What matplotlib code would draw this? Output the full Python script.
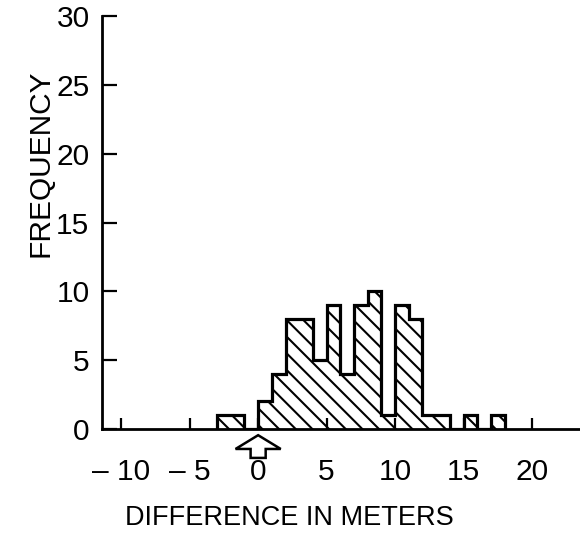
import numpy as np
import matplotlib
matplotlib.use("Agg")
import matplotlib.pyplot as plt
import matplotlib.patches as mpatches

# histogram of differences (1 m bins)
bin_edges = list(range(-3, 19))
counts = [1, 1, 0, 2, 4, 8, 8, 5, 9, 4, 9, 10, 1, 9, 8, 1, 1, 0, 1, 0, 1]

xticks = [-10, -5, 0, 5, 10, 15, 20]
xticklabels = ['– 10', '– 5', '0', '5', '10', '15', '20']
yticks = [0, 5, 10, 15, 20, 25, 30]
arrow_x = 0

plt.rcParams['font.family'] = ['Liberation Sans', 'DejaVu Sans']
plt.rcParams['hatch.linewidth'] = 1.5

fig = plt.figure(figsize=(5.8, 5.43), dpi=100)
ax = fig.add_axes([102 / 580, 1 - 429 / 543, 478 / 580, 413 / 543])

# hatched fill, then the stepped outline on top
ax.stairs(counts, bin_edges, fill=True, facecolor='white', edgecolor='black',
          linewidth=0, hatch='\\\\')
ax.stairs(counts, bin_edges, fill=False, baseline=0, color='black', linewidth=2.3)

ax.set_xlim(-11.4, 23.5)
ax.set_ylim(0, 30)

ax.spines['top'].set_visible(False)
ax.spines['right'].set_visible(False)
ax.spines['left'].set_linewidth(2.0)
ax.spines['bottom'].set_linewidth(2.0)

ax.set_xticks(xticks)
ax.set_xticklabels(xticklabels)
ax.set_yticks(yticks)
ax.tick_params(axis='x', direction='in', length=8, width=1.6, labelsize=21.5, pad=21)
ax.tick_params(axis='y', direction='in', length=11, width=1.6, labelsize=21.5, pad=9)

ax.set_ylabel('FREQUENCY', fontsize=21.5)
ax.yaxis.label.set(va='center', ha='center')
ax.yaxis.set_label_coords(-0.128, 0.643)
ax.set_xlabel('DIFFERENCE IN METERS', fontsize=19.5)
ax.xaxis.label.set(va='center', ha='center')
ax.xaxis.set_label_coords(0.393, -0.215)

# open arrow marking zero difference
arr = mpatches.FancyArrow(arrow_x, -2.1, 0, 1.65, width=1.1, head_width=3.3,
                          head_length=1.0, length_includes_head=True,
                          facecolor='white', edgecolor='black', linewidth=1.8,
                          clip_on=False)
ax.add_patch(arr)

fig.savefig('out.png', dpi=100)
